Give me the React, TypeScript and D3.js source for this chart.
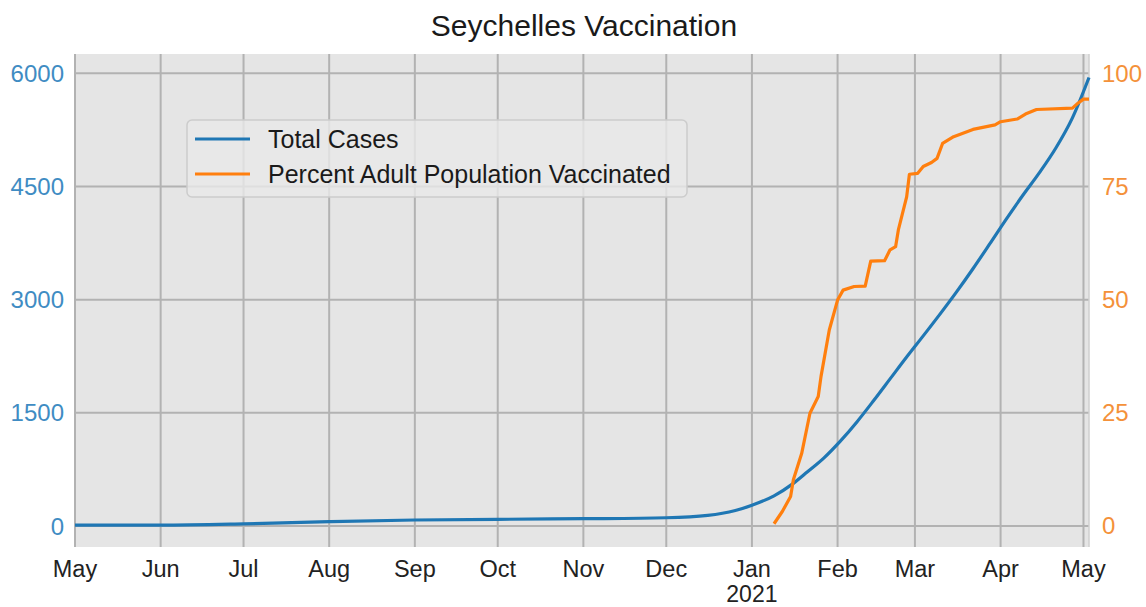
import * as d3 from 'd3';

const WIDTH = 1146;
const HEIGHT = 607;

const CASE_DATES = [
  '2020-05-01', '2020-06-01', '2020-07-01', '2020-08-01', '2020-09-01', '2020-10-01',
  '2020-11-01', '2020-12-01', '2020-12-16', '2020-12-26', '2021-01-01', '2021-01-09',
  '2021-01-16', '2021-01-21', '2021-01-27', '2021-02-02', '2021-02-08', '2021-02-14',
  '2021-02-20', '2021-02-26', '2021-03-04', '2021-03-10', '2021-03-16', '2021-03-22',
  '2021-03-28', '2021-04-03', '2021-04-09', '2021-04-15', '2021-04-21', '2021-04-27',
  '2021-05-03',
];
const TOTAL_CASES = [
  11, 11, 28, 58, 80, 89, 97, 110, 140, 205, 275, 400,
  565, 715, 900, 1125, 1380, 1660, 1950, 2240, 2520, 2805, 3100, 3410,
  3735, 4065, 4380, 4680, 5010, 5410, 5945,
];

const VAX_DATES = [
  '2021-01-09', '2021-01-12', '2021-01-15', '2021-01-16', '2021-01-19', '2021-01-22',
  '2021-01-25', '2021-01-26', '2021-01-29', '2021-02-01', '2021-02-03', '2021-02-07',
  '2021-02-11', '2021-02-13', '2021-02-18', '2021-02-20', '2021-02-22', '2021-02-23',
  '2021-02-26', '2021-02-27', '2021-03-02', '2021-03-04', '2021-03-07', '2021-03-09',
  '2021-03-11', '2021-03-15', '2021-03-22', '2021-03-30', '2021-04-01', '2021-04-07',
  '2021-04-10', '2021-04-14', '2021-04-27', '2021-04-29', '2021-05-01', '2021-05-03',
];
const PCT_VACCINATED = [
  0.5, 3.2, 6.5, 10.2, 16, 24.9,
  28.6, 33, 43.3, 49.9, 52.1, 52.9,
  53.0, 58.5, 58.6, 61, 61.7, 65.4,
  72.7, 77.7, 77.9, 79.4, 80.3, 81.2,
  84.5, 86, 87.6, 88.6, 89.3, 89.9,
  91, 92, 92.3, 93.4, 94.3, 94.3,
];

const LEFT_TICKS = [0, 1500, 3000, 4500, 6000];
const RIGHT_TICKS = [0, 25, 50, 75, 100];
const SERIES_NAMES = ['Total Cases', 'Percent Adult Population Vaccinated'];

const BLUE = '#1f77b4';
const ORANGE = '#ff7f0e';
const FONT = '"Liberation Sans", Arial, Helvetica, sans-serif';

const parse = d3.timeParse('%Y-%m-%d');

export default function App() {
  const plot = { left: 75, right: 1089, top: 54, bottom: 547 };

  const x = d3
    .scaleTime()
    .domain([parse('2020-05-01')!, parse('2021-05-03')!])
    .range([plot.left, plot.right]);
  const yLeft = d3.scaleLinear().domain([-278, 6256]).range([plot.bottom, plot.top]);
  const yRight = d3.scaleLinear().domain([-4.64, 104.26]).range([plot.bottom, plot.top]);

  const cases = CASE_DATES.map((d, i) => ({ date: parse(d)!, value: TOTAL_CASES[i] }));
  const vax = VAX_DATES.map((d, i) => ({ date: parse(d)!, value: PCT_VACCINATED[i] }));

  const casesLine = d3
    .line<{ date: Date; value: number }>()
    .x((d) => x(d.date))
    .y((d) => yLeft(d.value))
    .curve(d3.curveMonotoneX);
  const vaxLine = d3
    .line<{ date: Date; value: number }>()
    .x((d) => x(d.date))
    .y((d) => yRight(d.value));

  const months = d3.timeMonth.range(parse('2020-05-01')!, parse('2021-05-02')!);
  const fmt = d3.timeFormat('%b');

  const legend = { x: 187, y: 120, w: 500, h: 77 };

  return (
    <svg
      width={WIDTH}
      height={HEIGHT}
      style={{ position: 'absolute', left: 0, top: 0, background: '#ffffff' }}
      fontFamily={FONT}
    >
      <text x={(plot.left + plot.right) / 2 + 2} y={36} textAnchor="middle" fontSize={30} fill="#1a1a1a">
        Seychelles Vaccination
      </text>

      <rect
        x={plot.left}
        y={plot.top}
        width={plot.right - plot.left}
        height={plot.bottom - plot.top}
        fill="#e5e5e5"
      />

      {months.map((m) => (
        <line
          key={m.toISOString()}
          x1={x(m)}
          x2={x(m)}
          y1={plot.top}
          y2={plot.bottom}
          stroke="#b2b2b2"
          strokeWidth={2}
        />
      ))}
      {LEFT_TICKS.map((t) => (
        <line
          key={t}
          x1={plot.left}
          x2={plot.right}
          y1={yLeft(t)}
          y2={yLeft(t)}
          stroke="#b2b2b2"
          strokeWidth={2}
        />
      ))}
      <line x1={plot.right} x2={plot.right} y1={plot.top} y2={plot.bottom} stroke="#cfcfcf" strokeWidth={1.5} />

      <path d={casesLine(cases) ?? ''} fill="none" stroke={BLUE} strokeWidth={3.2} />
      <path d={vaxLine(vax) ?? ''} fill="none" stroke={ORANGE} strokeWidth={3.2} strokeLinejoin="round" />

      {LEFT_TICKS.map((t) => (
        <text key={t} x={64} y={yLeft(t) + 8.5} textAnchor="end" fontSize={24} fill="#3f8cc3">
          {t}
        </text>
      ))}
      {RIGHT_TICKS.map((t) => (
        <text key={t} x={1102} y={yRight(t) + 8.5} textAnchor="start" fontSize={24} fill="#f4913a">
          {t}
        </text>
      ))}
      {months.map((m) => (
        <text key={m.toISOString()} x={x(m)} y={577} textAnchor="middle" fontSize={23.5} fill="#222222">
          {fmt(m)}
        </text>
      ))}
      <text x={x(parse('2021-01-01')!)} y={602} textAnchor="middle" fontSize={23} fill="#222222">
        2021
      </text>

      <g>
        <rect
          x={legend.x}
          y={legend.y}
          width={legend.w}
          height={legend.h}
          rx={5}
          fill="#e8e8e8"
          fillOpacity={0.8}
          stroke="#cccccc"
          strokeWidth={1.5}
        />
        {SERIES_NAMES.map((name, i) => {
          const cy = 139 + i * 35;
          return (
            <g key={name}>
              <line x1={195} x2={250} y1={cy} y2={cy} stroke={i === 0 ? BLUE : ORANGE} strokeWidth={3.2} />
              <text x={268} y={cy + 9} fontSize={25} fill="#1a1a1a">
                {name}
              </text>
            </g>
          );
        })}
      </g>
    </svg>
  );
}
